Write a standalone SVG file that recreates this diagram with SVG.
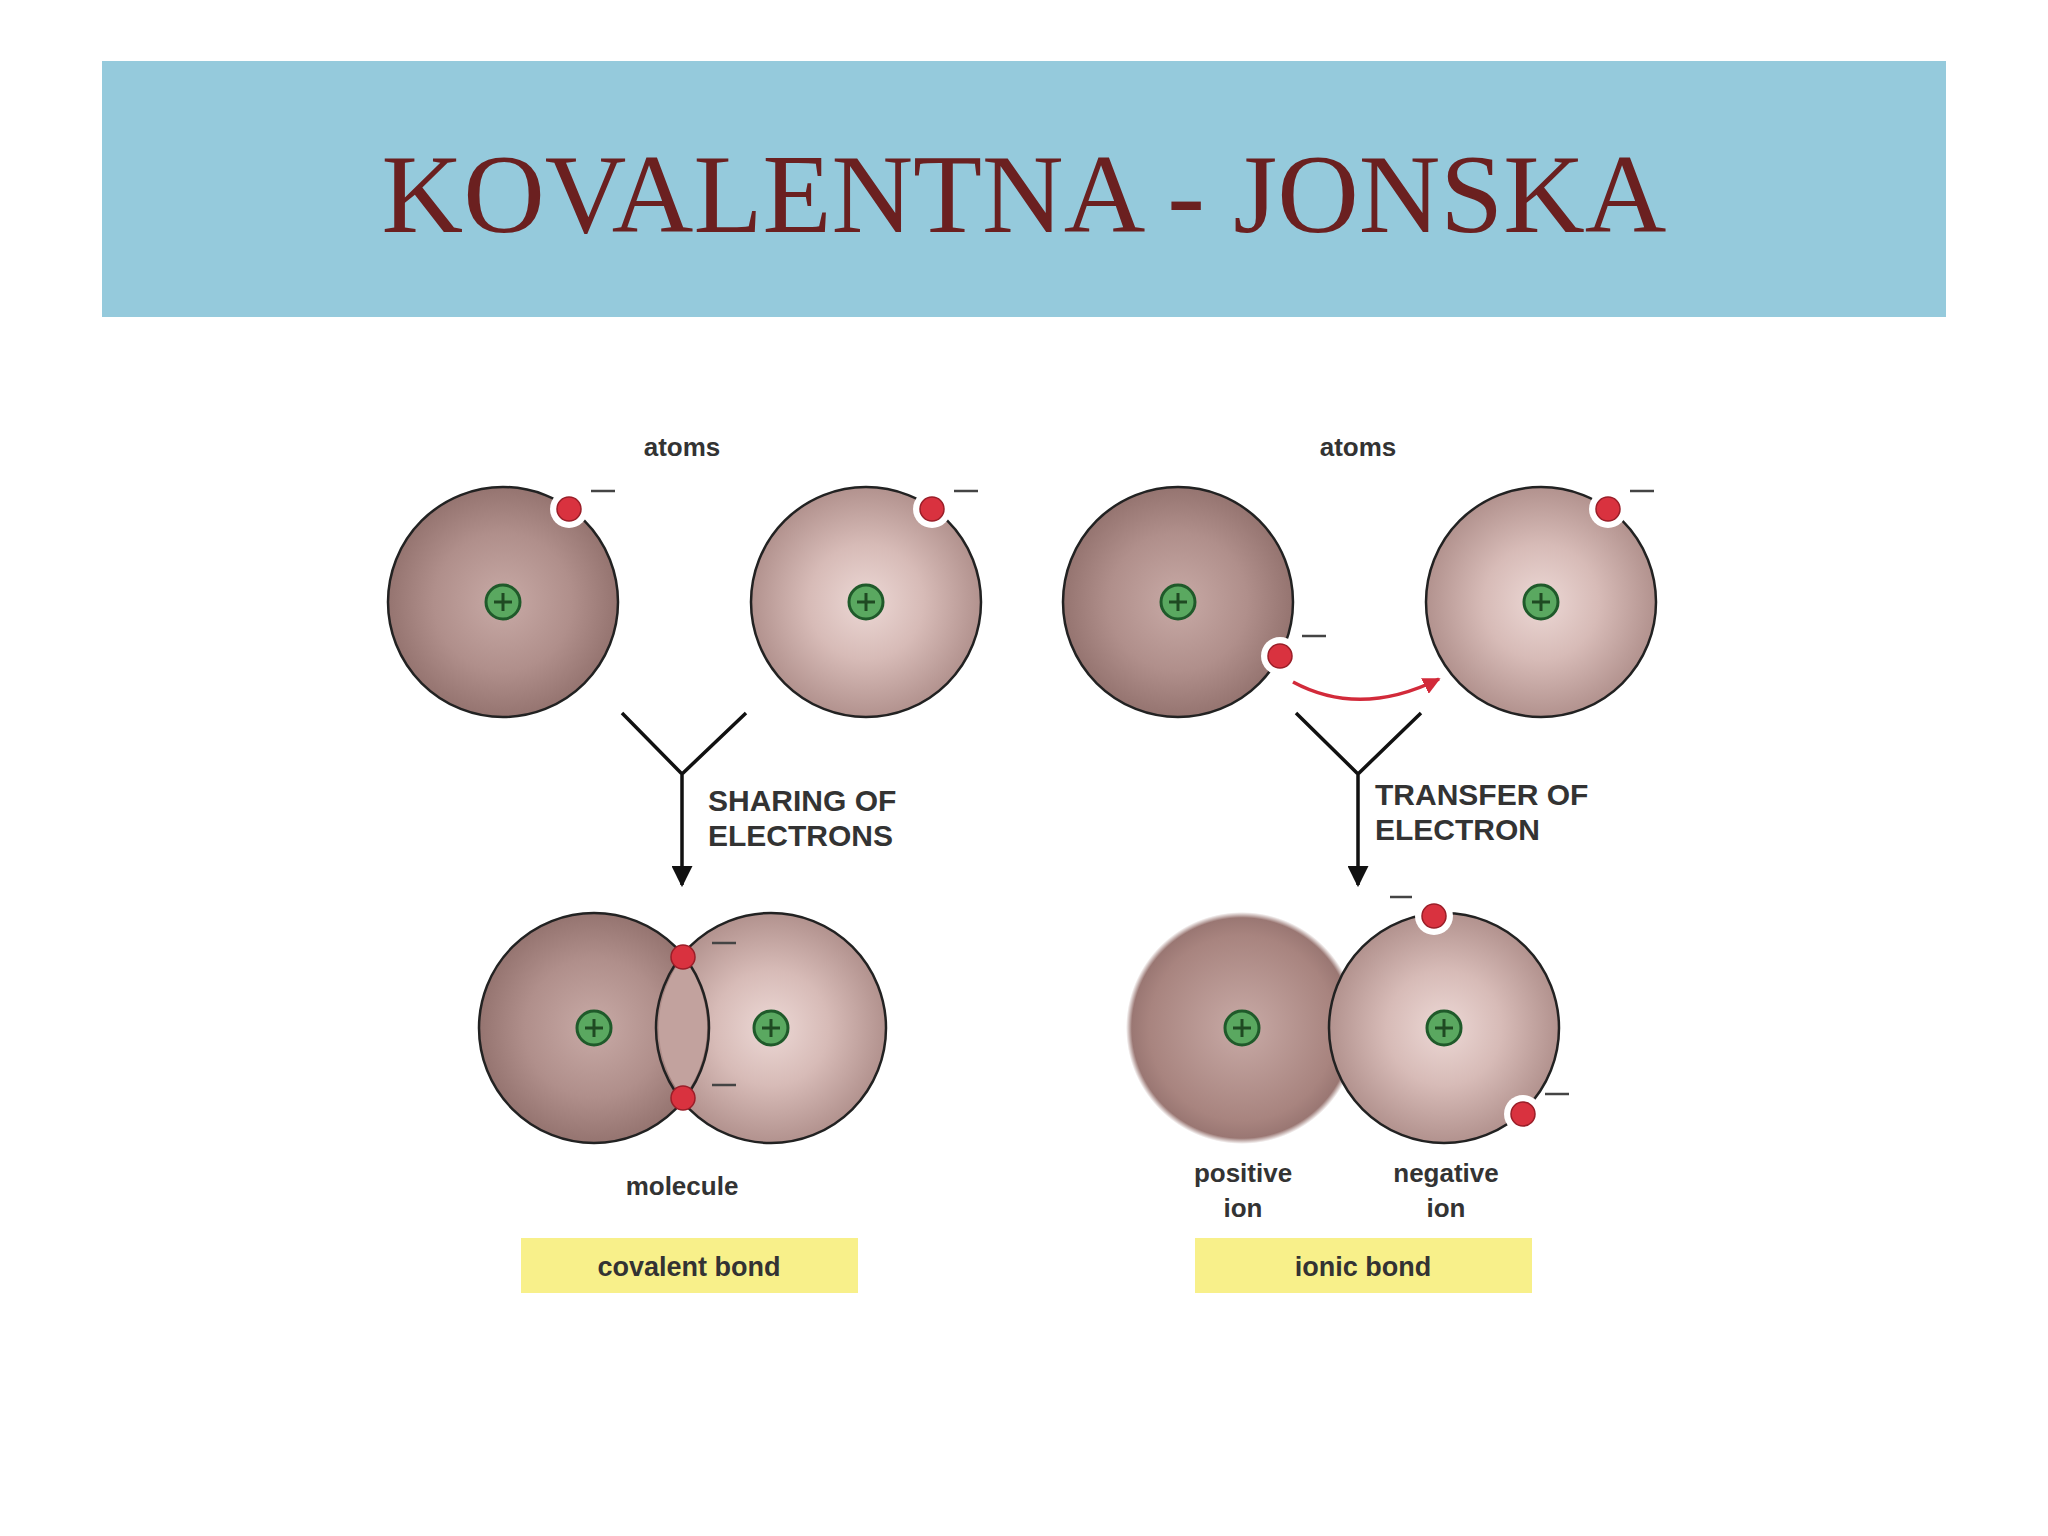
<svg xmlns="http://www.w3.org/2000/svg" width="2048" height="1536" viewBox="0 0 2048 1536">
<defs>
<radialGradient id="dark"><stop offset="0" stop-color="#c8aaa6"/><stop offset="0.6" stop-color="#b08f8b"/><stop offset="1" stop-color="#957470"/></radialGradient>
<radialGradient id="light"><stop offset="0" stop-color="#ecd8d5"/><stop offset="0.5" stop-color="#d7bbb7"/><stop offset="1" stop-color="#b2928e"/></radialGradient>
<radialGradient id="soft"><stop offset="0" stop-color="#c8aaa6"/><stop offset="0.8" stop-color="#a8847f"/><stop offset="0.95" stop-color="#9a7773"/><stop offset="1" stop-color="#9a7773" stop-opacity="0"/></radialGradient>
<marker id="ah" viewBox="0 0 10 10" refX="9" refY="5" markerWidth="6" markerHeight="6" orient="auto"><path d="M0,0 L10,5 L0,10 z" fill="#111"/></marker>
<marker id="rh" viewBox="0 0 10 10" refX="9" refY="5" markerWidth="5" markerHeight="5" orient="auto"><path d="M0,0 L10,5 L0,10 z" fill="#d22a3a"/></marker>
<g id="nuc"><circle r="17" fill="#5aa860" stroke="#1f5a2a" stroke-width="3"/><path d="M-9,0 H9 M0,-9 V9" stroke="#1f4a22" stroke-width="3"/></g>
<g id="el"><circle r="19" fill="#fff"/><circle r="12" fill="#d9323f" stroke="#9a1e28" stroke-width="1.5"/></g>
<g id="el2"><circle r="12" fill="#d9323f" stroke="#9a1e28" stroke-width="1.5"/></g>
</defs>
<style>
.a{stroke:#222;stroke-width:2.5}
.t{font-family:"Liberation Sans",Arial,sans-serif;fill:#333;font-weight:bold}
.m{stroke:#444;stroke-width:2.5}
</style>
<rect width="2048" height="1536" fill="#fff"/>
<g id="header"><rect x="102" y="61" width="1844" height="256" fill="#95cadc"/>
<text x="1024" y="232" text-anchor="middle" font-family="Liberation Serif,'Times New Roman',serif" font-size="113" fill="#6b2020">KOVALENTNA - JONSKA</text></g>

<g id="covalent-atoms">
<text class="t" x="682" y="456" text-anchor="middle" font-size="26">atoms</text>
<circle cx="503" cy="602" r="115" fill="url(#dark)" class="a"/><use href="#nuc" x="503" y="602"/>
<use href="#el" x="569" y="509"/><line x1="591" y1="491" x2="615" y2="491" class="m"/>
<circle cx="866" cy="602" r="115" fill="url(#light)" class="a"/><use href="#nuc" x="866" y="602"/>
<use href="#el" x="932" y="509"/><line x1="954" y1="491" x2="978" y2="491" class="m"/>
</g>
<g id="molecule">
<circle cx="771" cy="1028" r="115" fill="url(#light)"/>
<circle cx="594" cy="1028" r="115" fill="url(#dark)"/>
<path d="M683,957 A115,115 0 0 1 683,1098 A115,115 0 0 1 683,957 Z" fill="#c2a29e"/>
<circle cx="594" cy="1028" r="115" fill="none" class="a"/>
<circle cx="771" cy="1028" r="115" fill="none" class="a"/>
<use href="#nuc" x="594" y="1028"/><use href="#nuc" x="771" y="1028"/>
<use href="#el2" x="683" y="957"/><use href="#el2" x="683" y="1098"/>
<line x1="712" y1="943" x2="736" y2="943" class="m"/><line x1="712" y1="1085" x2="736" y2="1085" class="m"/>
<text class="t" x="682" y="1195" text-anchor="middle" font-size="26">molecule</text>
<rect x="521" y="1238" width="337" height="55" fill="#f8f08a"/>
<text class="t" x="689" y="1276" text-anchor="middle" font-size="27">covalent bond</text>
</g>

<g id="ionic-atoms">
<text class="t" x="1358" y="456" text-anchor="middle" font-size="26">atoms</text>
<circle cx="1178" cy="602" r="115" fill="url(#dark)" class="a"/><use href="#nuc" x="1178" y="602"/>
<use href="#el" x="1280" y="656"/><line x1="1302" y1="636" x2="1326" y2="636" class="m"/>
<circle cx="1541" cy="602" r="115" fill="url(#light)" class="a"/><use href="#nuc" x="1541" y="602"/>
<use href="#el" x="1608" y="509"/><line x1="1630" y1="491" x2="1654" y2="491" class="m"/>
</g>
<g id="ions">
<circle cx="1242" cy="1028" r="116" fill="url(#soft)"/><use href="#nuc" x="1242" y="1028"/>
<circle cx="1444" cy="1028" r="115" fill="url(#light)" class="a"/><use href="#nuc" x="1444" y="1028"/>
<use href="#el" x="1434" y="916"/><line x1="1390" y1="897" x2="1412" y2="897" class="m"/>
<use href="#el" x="1523" y="1114"/><line x1="1545" y1="1094" x2="1569" y2="1094" class="m"/>
<text class="t" x="1243" y="1182" text-anchor="middle" font-size="26">positive</text>
<text class="t" x="1243" y="1217" text-anchor="middle" font-size="26">ion</text>
<text class="t" x="1446" y="1182" text-anchor="middle" font-size="26">negative</text>
<text class="t" x="1446" y="1217" text-anchor="middle" font-size="26">ion</text>
<rect x="1195" y="1238" width="337" height="55" fill="#f8f08a"/>
<text class="t" x="1363" y="1276" text-anchor="middle" font-size="27">ionic bond</text>
</g>

<g id="connectors" fill="none">
<path d="M622,713 L682,774 L746,713 M682,774 V885" stroke="#111" stroke-width="3.5" marker-end="url(#ah)"/>
<path d="M1296,713 L1358,774 L1421,713 M1358,774 V885" stroke="#111" stroke-width="3.5" marker-end="url(#ah)"/>
<path d="M1293,682 Q1360,718 1439,679" stroke="#d22a3a" stroke-width="3.5" marker-end="url(#rh)"/>
</g>
<g id="labels">
<text class="t" x="708" y="811" font-size="30">SHARING OF</text>
<text class="t" x="708" y="846" font-size="30">ELECTRONS</text>
<text class="t" x="1375" y="805" font-size="30">TRANSFER OF</text>
<text class="t" x="1375" y="840" font-size="30">ELECTRON</text>
</g>
</svg>
